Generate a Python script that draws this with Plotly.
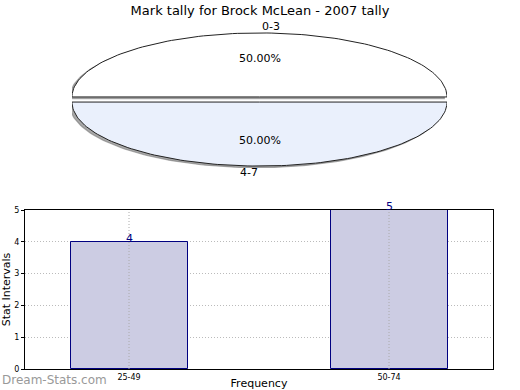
import numpy as np
import plotly.graph_objects as go

# ---- data ----
title_text = "Mark tally for Brock McLean - 2007 tally"
pie_labels = ["0-3", "4-7"]
pie_values = [1, 1]
pie_colors = ["#FFFFFF", "#EAF0FC"]

bar_categories = ["25-49", "50-74"]
bar_values = [4, 5]
y_ticks = [0, 1, 2, 3, 4, 5]

W, H = 520, 390
fig = go.Figure()

# ---- elliptical pie (matplotlib-like, squashed) ----
explode = 0.04
total = float(sum(pie_values))
shadow_dx, shadow_dy = -0.014, -0.025
start = 0.0
slices = []
for lab, val, col in zip(pie_labels, pie_values, pie_colors):
    frac = val / total
    t0, t1 = start, start + 2 * np.pi * frac
    mid = (t0 + t1) / 2
    cx, cy = explode * np.cos(mid), explode * np.sin(mid)
    t = np.linspace(t0, t1, 120)
    xs = np.concatenate([[cx], cx + np.cos(t), [cx]])
    ys = np.concatenate([[cy], cy + np.sin(t), [cy]])
    slices.append((lab, frac, col, mid, cx, cy, xs, ys))
    start = t1

for lab, frac, col, mid, cx, cy, xs, ys in slices:
    fig.add_trace(go.Scatter(x=xs + shadow_dx, y=ys + shadow_dy, mode="lines",
                             fill="toself", fillcolor="rgba(110,110,110,0.6)",
                             line=dict(color="rgba(110,110,110,0.5)", width=1.2),
                             xaxis="x2", yaxis="y2", hoverinfo="skip", showlegend=False))
for lab, frac, col, mid, cx, cy, xs, ys in slices:
    fig.add_trace(go.Scatter(x=xs, y=ys, mode="lines", fill="toself", fillcolor=col,
                             line=dict(color="#222222", width=1),
                             xaxis="x2", yaxis="y2", hoverinfo="skip", showlegend=False))
    lx, ly = cx + 1.1 * np.cos(mid), cy + 1.1 * np.sin(mid)
    fig.add_annotation(x=lx, y=ly, xref="x2", yref="y2", text=lab, showarrow=False,
                       xanchor="left" if np.cos(mid) > 0 else "right",
                       yanchor="middle", font=dict(size=11, color="#000"))
    px, py = cx + 0.6 * np.cos(mid), cy + 0.6 * np.sin(mid)
    fig.add_annotation(x=px, y=py, xref="x2", yref="y2", text=f"{frac*100:.2f}%",
                       showarrow=False, xanchor="center", yanchor="middle",
                       font=dict(size=11, color="#000"))

# ---- bar chart ----
fig.add_trace(go.Bar(x=bar_categories, y=bar_values, width=0.45,
                     marker=dict(color="#CCCCE3", line=dict(color="#000080", width=1)),
                     xaxis="x", yaxis="y", showlegend=False, hoverinfo="skip"))
for c, v in zip(bar_categories, bar_values):
    fig.add_annotation(x=c, y=v, xref="x", yref="y", text=str(v), showarrow=False,
                       xanchor="center", yanchor="bottom", yshift=-5,
                       font=dict(size=11, color="#000080"))
    fig.add_shape(type="line", xref="x", yref="y", x0=c, x1=c, y0=0, y1=max(y_ticks),
                  line=dict(color="#AAAAAA", width=1, dash="1px,2px"), layer="above")

# pie axes: 64 px per unit vertically, centred at pixel row 99.5
ppu = 64.0
yr = 1.3
cy_px = 99.5
fig.update_layout(
    width=W, height=H, margin=dict(l=0, r=0, t=0, b=0, autoexpand=False),
    paper_bgcolor="white", plot_bgcolor="white",
    font=dict(family="DejaVu Sans", color="#000"),
    title=dict(text=title_text, x=0.5, xanchor="center", y=1 - 10 / H, yanchor="middle",
               font=dict(size=13, family="DejaVu Sans")),
    bargap=0,
    xaxis=dict(domain=[25 / W, 493 / W], type="category", range=[-0.4, 1.4],
               showgrid=False, showline=True, linecolor="#000", linewidth=1, mirror=True,
               ticks="", tickfont=dict(size=8), zeroline=False, automargin=False,
               title=dict(text="Frequency", font=dict(size=11), standoff=4)),
    yaxis=dict(domain=[1 - 369 / H, 1 - 210 / H], range=[0, 5], tickvals=y_ticks,
               showgrid=True, gridcolor="#BBBBBB", griddash="1px,2px", gridwidth=1,
               showline=True, linecolor="#000", linewidth=1, mirror=True,
               ticks="outside", ticklen=3, tickcolor="#000", tickfont=dict(size=8),
               zeroline=False, automargin=False,
               title=dict(text="Stat Intervals", font=dict(size=11), standoff=6)),
    xaxis2=dict(domain=[72 / W, 447 / W], range=[-1, 1], visible=False, fixedrange=True,
                automargin=False, anchor="y2"),
    yaxis2=dict(domain=[1 - (cy_px + yr * ppu) / H, 1 - (cy_px - yr * ppu) / H],
                range=[-yr, yr], visible=False, fixedrange=True, anchor="x2",
                automargin=False),
)
fig.add_annotation(x=0, y=1 - 380 / H, xref="paper", yref="paper", text="Dream-Stats.com",
                   showarrow=False, xanchor="left", yanchor="middle",
                   font=dict(size=12, color="#999999", family="DejaVu Sans"))

fig.write_html("out.html", config={"displayModeBar": False},
               post_script="document.body.style.margin='0px';document.body.style.overflow='hidden';")
